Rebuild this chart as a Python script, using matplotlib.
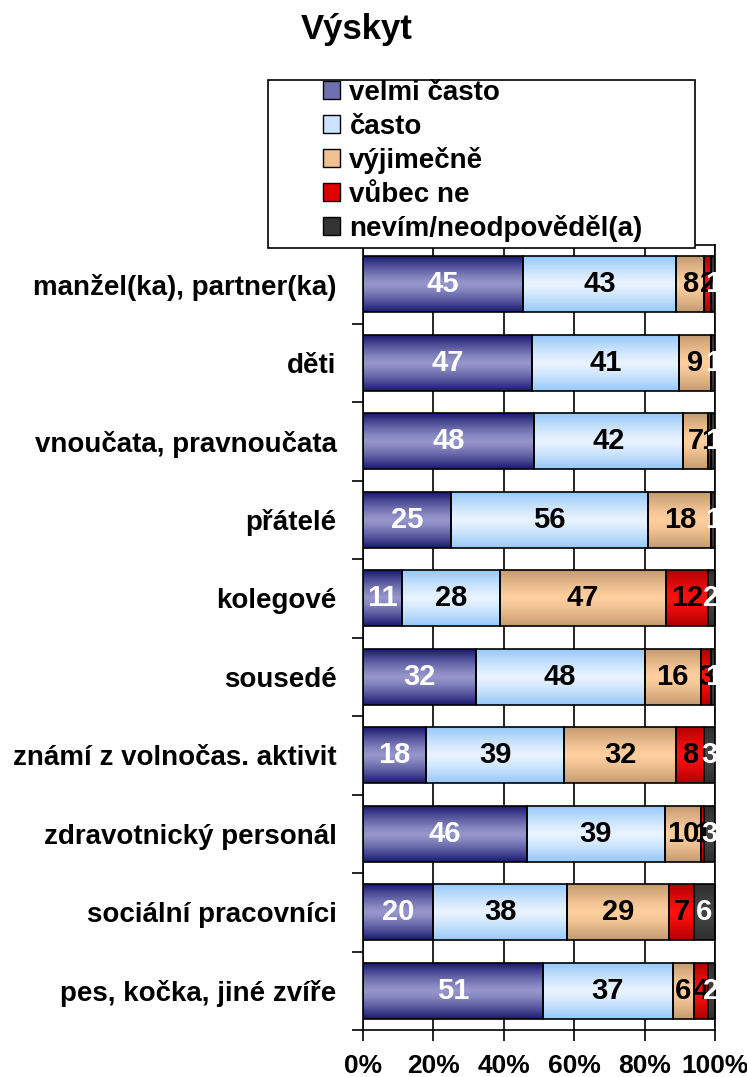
import matplotlib
matplotlib.use("Agg")
import matplotlib.pyplot as plt
import numpy as np
from matplotlib.patches import Rectangle, Patch
from matplotlib.colors import LinearSegmentedColormap

plt.rcParams['font.family'] = ['Liberation Sans', 'DejaVu Sans']
plt.rcParams['font.weight'] = 'bold'

categories = ["manžel(ka), partner(ka)", "děti", "vnoučata, pravnoučata", "přátelé",
              "kolegové", "sousedé", "známí z volnočas. aktivit",
              "zdravotnický personál", "sociální pracovníci", "pes, kočka, jiné zvíře"]
series = ["velmi často", "často", "výjimečně", "vůbec ne", "nevím/neodpověděl(a)"]
velmi_casto = [45, 47, 48, 25, 11, 32, 18, 46, 20, 51]
casto = [43, 41, 42, 56, 28, 48, 39, 39, 38, 37]
vyjimecne = [8, 9, 7, 18, 47, 16, 32, 10, 29, 6]
vubec_ne = [2, 0, 1, 0, 12, 3, 8, 1, 7, 4]
nevim = [1, 1, 1, 1, 2, 1, 3, 3, 6, 2]

# (edge, centre) colours for the vertical gradient fill
grad = [("#1a1a70", "#9696cc"), ("#96c8fa", "#e8f3ff"), ("#c49a70", "#ffcf9e"),
        ("#b00000", "#ff1010"), ("#2e2e2e", "#444444")]
legend_colors = ["#7070b0", "#cce4ff", "#f0c090", "#e00000", "#333333"]
text_colors = ["white", "black", "black", "black", "white"]

data = np.array([velmi_casto, casto, vyjimecne, vubec_ne, nevim], dtype=float)
pct = data / data.sum(axis=0) * 100

fig = plt.figure(figsize=(7.47, 10.77), dpi=100)
ax = fig.add_axes([363 / 747, 47 / 1077, 352 / 747, 785 / 1077])

y = np.arange(len(categories))
left = np.zeros(len(categories))
profile = np.linspace(0, 1, 64)
profile = 1 - np.abs(2 * profile - 1) ** 1.3
for i, name in enumerate(series):
    cmap = LinearSegmentedColormap.from_list(name, [grad[i][0], grad[i][1]])
    bars = ax.barh(y, pct[i], left=left, height=0.71, color="none",
                   edgecolor="black", linewidth=1.2, zorder=3)
    for b, v in zip(bars, data[i]):
        if v <= 0:
            continue
        x0, y0 = b.get_x(), b.get_y()
        w, h = b.get_width(), b.get_height()
        im = ax.imshow(profile[:, None], cmap=cmap, vmin=0, vmax=1, aspect="auto",
                       extent=(x0, x0 + w, y0 + h, y0), zorder=2, interpolation="bilinear")
        im.set_clip_path(b)
        ax.text(x0 + w / 2, y0 + h / 2, f"{int(v)}", ha="center", va="center",
                color=text_colors[i], fontsize=21, fontweight="bold", zorder=4)
    left += pct[i]

ax.set_xlim(0, 100)
ax.set_ylim(len(categories) - 0.5, -0.5)
ax.set_xticks(np.arange(0, 101, 20))
ax.set_xticklabels([f"{t}%" for t in range(0, 101, 20)], fontsize=19)
ax.set_yticks(y)
ax.set_yticklabels(categories, fontsize=20)
ax.set_yticks(np.arange(-0.5, len(categories), 1), minor=True)
ax.tick_params(axis="y", which="major", length=0, pad=19)
ax.tick_params(axis="y", which="minor", length=8, width=1.2, direction="out")
ax.tick_params(axis="x", length=8, width=1.2, direction="out", pad=9)
ax.grid(axis="x", color="black", linewidth=1.2, zorder=0)
ax.set_axisbelow(True)
for s in ax.spines.values():
    s.set_linewidth(1.2)

fig.text(357 / 747, 1 - 30 / 1077, "Výskyt", ha="center", va="center",
         fontsize=25, fontweight="bold")

# legend box
fig.patches.append(Rectangle((268 / 747, 1 - 248 / 1077), 427 / 747, 168 / 1077,
                             transform=fig.transFigure, facecolor="white",
                             edgecolor="black", linewidth=1.2, zorder=5))
handles = [Patch(facecolor=c, edgecolor="black") for c in legend_colors]
leg = fig.legend(handles, series, loc="upper left", bbox_to_anchor=(298 / 747, 1 - 55 / 1077),
                 frameon=False, handlelength=0.6, handleheight=0.6,
                 handletextpad=0.35, labelspacing=0.27, prop={"weight": "bold", "size": 20})
leg.set_zorder(6)

fig.savefig("out.png", dpi=100)
